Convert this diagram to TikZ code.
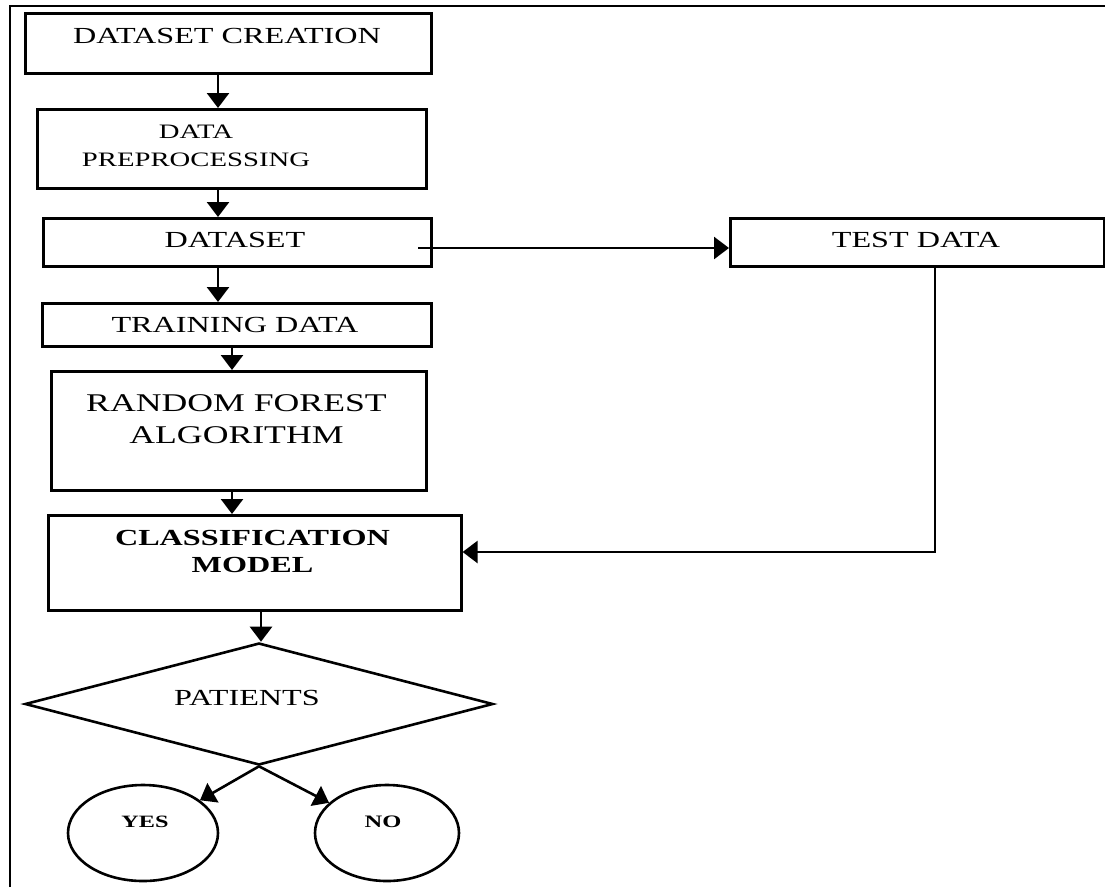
\documentclass[tikz,border=0pt]{standalone}
\usepackage{fontspec}
\setmainfont{Liberation Serif}[FakeStretch=1.4]
\usetikzlibrary{arrows.meta,shapes.geometric}
\begin{document}
\begin{tikzpicture}[x=1pt,y=-1pt,
  box/.style={draw,line width=2.6pt,inner sep=0pt,anchor=north west},
  txt/.style={inner sep=0pt,align=center},
  arr/.style={line width=2.6pt,-{Triangle[width=22pt,length=15pt]}},
  ln/.style={line width=2.6pt}]
\path[use as bounding box] (0,0) rectangle (1105,887);
\draw[ln,line join=miter] (10,887) -- (10,6) -- (1105,6);

% boxes
\node[box,minimum width=406pt,minimum height=60pt] (creation) at (24,12) {};
\node[txt,font=\fontsize{23}{26}\selectfont] (tcreation) at (227,36) {DATASET CREATION};

\node[box,minimum width=389pt,minimum height=79pt] (preproc) at (36,108) {};
\node[txt,font=\fontsize{20.5}{28}\selectfont] (tpreproc) at (196,146) {DATA\\PREPROCESSING};

\node[box,minimum width=388pt,minimum height=48pt] (dataset) at (42,217) {};
\node[txt,font=\fontsize{23}{26}\selectfont] (tdataset) at (235,240) {DATASET};

\node[box,minimum width=374pt,minimum height=48pt] (test) at (729,217) {};
\node[txt,font=\fontsize{23}{26}\selectfont] (ttest) at (916,240) {TEST DATA};

\node[box,minimum width=389pt,minimum height=43pt] (training) at (41,302) {};
\node[txt,font=\fontsize{23}{26}\selectfont] (ttraining) at (235,325) {TRAINING DATA};

\node[box,minimum width=375pt,minimum height=119pt] (rf) at (50,370) {};
\node[txt,font=\fontsize{25.5}{32}\selectfont] (trf) at (236.5,419) {RANDOM FOREST\\ALGORITHM};

\node[box,minimum width=413pt,minimum height=95pt] (class) at (47,514) {};
\node[txt,font=\fontsize{23}{27}\selectfont\bfseries] (tclass) at (252.5,551.5) {CLASSIFICATION\\MODEL};

\node[draw,diamond,line width=2.6pt,inner sep=0pt,minimum width=468pt,minimum height=122pt] (dia) at (259,704) {};
\node[txt,font=\fontsize{23}{26}\selectfont] (tdia) at (247,698) {PATIENTS};

\node[draw,ellipse,line width=2.6pt,inner sep=0pt,minimum width=150pt,minimum height=96pt] (yes) at (143,833) {};
\node[txt,font=\fontsize{17.3}{20}\selectfont\bfseries] (tyes) at (145,822) {YES};
\node[draw,ellipse,line width=2.6pt,inner sep=0pt,minimum width=144pt,minimum height=96pt] (no) at (387,833) {};
\node[txt,font=\fontsize{17.5}{20}\selectfont\bfseries] (tno) at (383,822) {NO};

% connector guides
\coordinate (c1) at (218,0);
\coordinate (c2) at (232,0);
\coordinate (c3) at (261,0);
\coordinate (dsout) at (418,248);
\coordinate (tx) at (935,552);

\draw[arr] (creation.south -| c1) -- (preproc.north -| c1);
\draw[arr] (preproc.south -| c1) -- (dataset.north -| c1);
\draw[arr] (dataset.south -| c1) -- (training.north -| c1);
\draw[arr] (training.south -| c2) -- (rf.north -| c2);
\draw[arr] (rf.south -| c2) -- (class.north -| c2);
\draw[arr] (class.south -| c3) -- (dia.north -| c3);
\draw[arr] (dsout) -- (test.west |- dsout);
\draw[arr] (test.south -| tx) -- (tx) -- (class.east |- tx);
\draw[arr] (dia.south) -- (yes);
\draw[arr] (dia.south) -- (no);
\end{tikzpicture}
\end{document}
